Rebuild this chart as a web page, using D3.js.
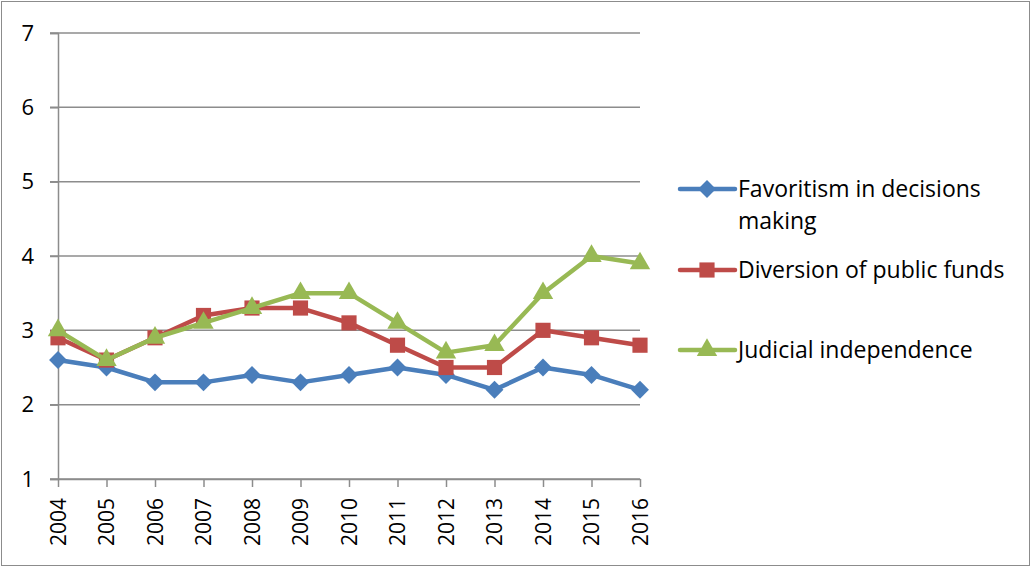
<!DOCTYPE html>
<html>
<head>
<meta charset="utf-8">
<script src="https://cdn.jsdelivr.net/npm/d3@7"></script>
<style>
  body { margin: 0; background: #fff; }
  svg text { font-family: "Open Sans", "Noto Sans", sans-serif; fill: #000; }
</style>
</head>
<body>
<svg id="chart"></svg>
<script>
var years = ["2004","2005","2006","2007","2008","2009","2010","2011","2012","2013","2014","2015","2016"];
var favoritism = [2.6, 2.5, 2.3, 2.3, 2.4, 2.3, 2.4, 2.5, 2.4, 2.2, 2.5, 2.4, 2.2];
var diversion = [2.9, 2.6, 2.9, 3.2, 3.3, 3.3, 3.1, 2.8, 2.5, 2.5, 3.0, 2.9, 2.8];
var judicial = [3.0, 2.6, 2.9, 3.1, 3.3, 3.5, 3.5, 3.1, 2.7, 2.8, 3.5, 4.0, 3.9];
var yTicks = [1, 2, 3, 4, 5, 6, 7];

var series = [
  { name: ["Favoritism in decisions", "making"], values: favoritism, color: "#4a7ebb", shape: "diamond" },
  { name: ["Diversion of public funds"], values: diversion, color: "#be4b48", shape: "square" },
  { name: ["Judicial independence"], values: judicial, color: "#98b954", shape: "triangle" }
];

var width = 1032, height = 568;
var svg = d3.select("#chart").attr("width", width).attr("height", height);

// outer frame
svg.append("rect")
   .attr("x", 1.5).attr("y", 1.5)
   .attr("width", width - 4).attr("height", height - 4)
   .attr("fill", "none").attr("stroke", "#8c8c8c").attr("stroke-width", 1);

var x = d3.scalePoint().domain(years).range([58, 640]);
var y = d3.scaleLinear().domain([1, 7]).range([479, 33]);

// gridlines
svg.append("g")
   .selectAll("line")
   .data(yTicks)
   .enter().append("line")
   .attr("x1", 50).attr("x2", 640)
   .attr("y1", function(d) { return y(d); })
   .attr("y2", function(d) { return y(d); })
   .attr("stroke", "#8c8c8c").attr("stroke-width", 1.5);

// y axis
var yAxis = svg.append("g")
   .attr("transform", "translate(58,0)")
   .call(d3.axisLeft(y).tickValues(yTicks).tickSize(8).tickPadding(16).tickFormat(d3.format("d")));
yAxis.select(".domain").attr("stroke", "#8c8c8c").attr("stroke-width", 1.5);
yAxis.selectAll(".tick line").attr("stroke", "#8c8c8c").attr("stroke-width", 1.5);
yAxis.selectAll("text").style("font-size", "22px");

// x axis
var xAxis = svg.append("g")
   .attr("transform", "translate(0,479)")
   .call(d3.axisBottom(x).tickSize(8).tickSizeOuter(0));
xAxis.select(".domain").attr("stroke", "#8c8c8c").attr("stroke-width", 1.5);
xAxis.selectAll(".tick line").attr("stroke", "#8c8c8c").attr("stroke-width", 1.5);
xAxis.selectAll("text")
     .style("font-size", "21px")
     .attr("text-anchor", "end")
     .attr("transform", "rotate(-90)")
     .attr("x", -19).attr("y", 0).attr("dy", "0.35em");

var symbols = {
  diamond: d3.symbol().type(d3.symbolSquare).size(160),
  square: d3.symbol().type(d3.symbolSquare).size(230),
  triangle: d3.symbol().type(d3.symbolTriangle).size(180)
};
var rot = { diamond: " rotate(45)", square: "", triangle: "" };

var line = d3.line()
  .x(function(d, i) { return x(years[i]); })
  .y(function(d) { return y(d); });

series.forEach(function(s) {
  var g = svg.append("g");
  g.append("path")
   .attr("d", line(s.values))
   .attr("fill", "none")
   .attr("stroke", s.color)
   .attr("stroke-width", 4.5)
   .attr("stroke-linejoin", "round");
  g.selectAll("path.mark")
   .data(s.values)
   .enter().append("path")
   .attr("class", "mark")
   .attr("d", symbols[s.shape])
   .attr("transform", function(d, i) { return "translate(" + x(years[i]) + "," + y(d) + ")" + rot[s.shape]; })
   .attr("fill", s.color);
});

// legend
var legendY = [189, 270, 350];
series.forEach(function(s, i) {
  var g = svg.append("g").attr("transform", "translate(0," + legendY[i] + ")");
  g.append("line")
   .attr("x1", 680).attr("x2", 735)
   .attr("stroke", s.color).attr("stroke-width", 4.5).attr("stroke-linecap", "round");
  g.append("path")
   .attr("d", symbols[s.shape])
   .attr("transform", "translate(707,0)" + rot[s.shape])
   .attr("fill", s.color);
  g.selectAll("text")
   .data(s.name)
   .enter().append("text")
   .attr("x", 738)
   .attr("y", function(d, j) { return j * 32; })
   .attr("dy", "0.35em")
   .style("font-size", "23px")
   .text(function(d) { return d; });
});
</script>
</body>
</html>
